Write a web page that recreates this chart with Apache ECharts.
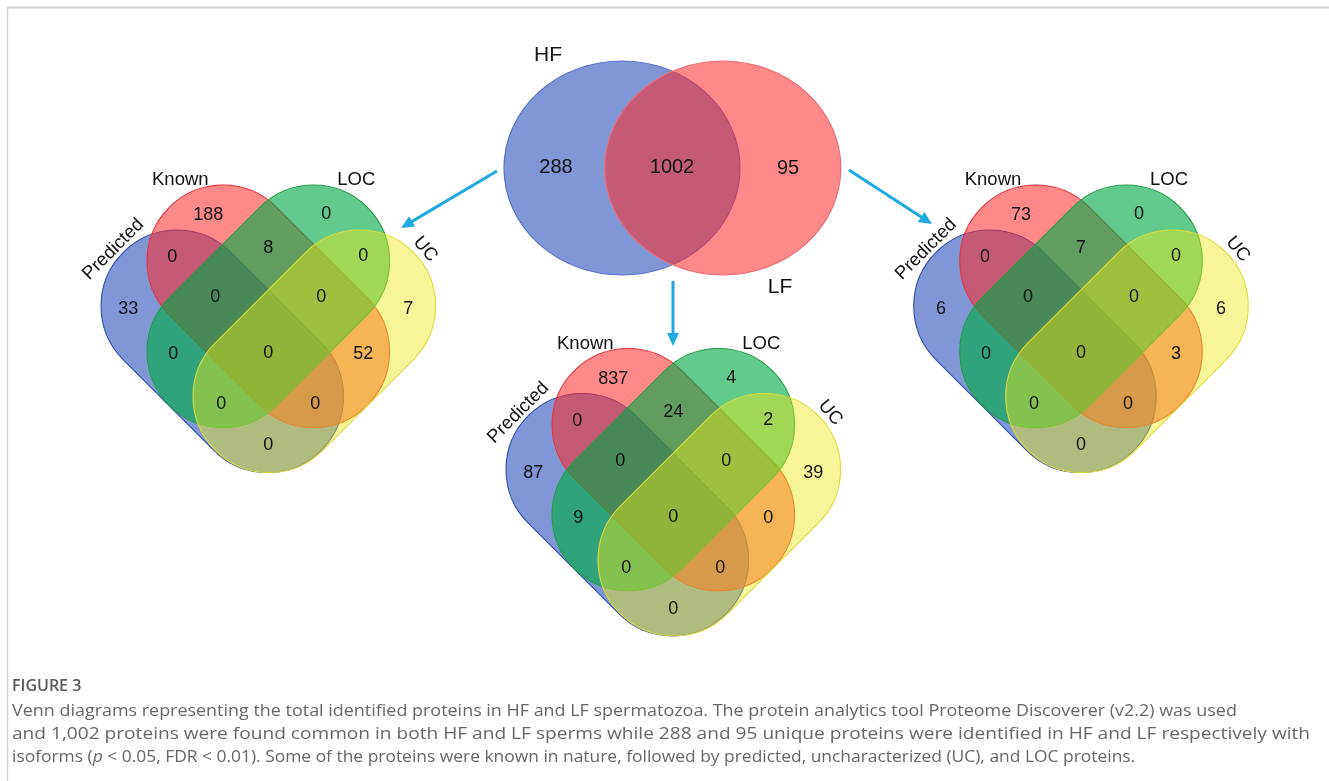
<!DOCTYPE html>
<html>
<head>
<meta charset="utf-8">
<script src="https://cdn.jsdelivr.net/npm/echarts@6/dist/echarts.min.js"></script>
<style>
html, body { margin: 0; padding: 0; background: #fff; }
#chart { width: 1329px; height: 781px; }
</style>
</head>
<body>
<div id="chart"></div>
<script>
// Two-group overlap: HF only, shared, LF only
const pairSets = ['HF', 'LF'];
const pairCounts = [288, 1002, 95];

// Protein categories and the 15 regions of each four-set diagram
const setNames = ['Predicted', 'Known', 'LOC', 'UC'];
const regionKeys = ['P', 'K', 'L', 'U', 'PK', 'KL', 'LU', 'PL', 'KU', 'PU', 'PKL', 'KLU', 'PLU', 'PKU', 'PKLU'];
const hfOnlyCounts = [33, 188, 0, 7, 0, 8, 0, 0, 52, 0, 0, 0, 0, 0, 0];
const sharedCounts = [87, 837, 4, 39, 0, 24, 2, 9, 0, 0, 0, 0, 0, 0, 0];
const lfOnlyCounts = [6, 73, 0, 6, 0, 7, 0, 0, 3, 0, 0, 0, 0, 0, 0];
const quadCounts = [hfOnlyCounts, sharedCounts, lfOnlyCounts];

// Caption
const captionTitle = 'FIGURE 3';
const captionLines = [
  'Venn diagrams representing the total identified proteins in HF and LF spermatozoa. The protein analytics tool Proteome Discoverer (v2.2) was used',
  'and 1,002 proteins were found common in both HF and LF sperms while 288 and 95 unique proteins were identified in HF and LF respectively with',
  'isoforms ({i|p} < 0.05, FDR < 0.01). Some of the proteins were known in nature, followed by predicted, uncharacterized (UC), and LOC proteins.'
];

// Geometry (pixel units of the hidden 1329 x 781 cartesian frame)
const layout = {
  pair: {
    centers: [[622, 168], [722.8, 168]],
    rx: 118, ry: 107,
    labelPos: [[556, 167], [672, 167], [788, 168]],
    namePos: [[548, 55], [780, 287]]
  },
  quad: {
    centers: [[268.3, 353.3], [673.3, 516.7], [1081, 353.3]],
    shapeOffset: [[-46, -2], [0, -47], [0, -47], [46, -2]],
    shapeRot: [-45, -45, 45, 45],
    length: 280, width: 152,
    regionOffset: {
      P: [-140, -44], K: [-60, -138], L: [58, -139], U: [140, -44],
      PK: [-96, -96], KL: [0, -105], LU: [95, -97],
      PL: [-95, 1], KU: [95, 1], PU: [0, 92],
      PKL: [-53, -56], KLU: [53, -56], PLU: [-47, 51], PKU: [47, 51], PKLU: [0, 0]
    },
    namePos: [[-155, -104, 45], [-88, -173, 0], [88, -173, 0], [157, -104, -50]]
  },
  arrows: [[[497, 171], [401, 228]], [[673, 281], [673, 346]], [[849, 170], [932, 224]]],
  caption: { x: 12, titleY: 686, lineY: [711, 734, 757], stretch: [1.055, 1.124, 1.024] }
};

const setFill = ['rgba(43,82,187,0.6)', 'rgba(255,40,40,0.55)', 'rgba(0,170,70,0.62)', 'rgba(235,232,25,0.45)'];
const setStroke = ['#2c4bb0', '#e8333a', '#1f9e44', '#e0dc3a'];
const numFont = '"Liberation Sans", Arial, sans-serif';
const capFont = '"Open Sans", sans-serif';

const chart = echarts.init(document.getElementById('chart'));

function textEl(x, y, str, size, rot) {
  return {
    type: 'text', x: x, y: y, rotation: (rot || 0) * Math.PI / 180,
    style: {
      text: str, fill: '#111', fontSize: size, fontFamily: numFont,
      textAlign: 'center', textVerticalAlign: 'middle'
    }
  };
}

const quadShapeData = [];
quadCounts.forEach((_, d) => setNames.forEach((__, s) => quadShapeData.push([d, s])));
const quadLabelData = [];
quadCounts.forEach((arr, d) => arr.forEach((v, r) => quadLabelData.push([d, r, v])));
const quadNameData = [];
quadCounts.forEach((_, d) => setNames.forEach((__, s) => quadNameData.push([d, s])));

const C = layout.caption;
const captionGraphics = [
  { type: 'text', x: C.x, y: C.titleY, style: { text: captionTitle, fill: '#5a5a5a', fontSize: 16, fontWeight: 600, fontFamily: capFont, textVerticalAlign: 'middle' } }
].concat(captionLines.map((line, i) => ({
  type: 'text', x: C.x, y: C.lineY[i], scaleX: C.stretch[i],
  style: {
    text: line, fill: '#666', fontSize: 17, fontFamily: capFont, textVerticalAlign: 'middle',
    rich: { i: { fontStyle: 'italic', fill: '#666', fontSize: 17, fontFamily: capFont } }
  }
})));

const option = {
  animation: false,
  grid: { left: 0, right: 0, top: 0, bottom: 0 },
  xAxis: { type: 'value', min: 0, max: 1329, show: false },
  yAxis: { type: 'value', min: 0, max: 781, inverse: true, show: false },
  series: [
    {
      // HF / LF circles
      type: 'custom', silent: true, clip: false,
      data: pairSets.map((n, i) => [i]),
      renderItem: function (params, api) {
        const i = api.value(0);
        const c = api.coord(layout.pair.centers[i]);
        const L = layout.pair;
        return {
          type: 'circle', x: c[0], y: c[1],
          scaleX: L.rx / L.ry,
          shape: { cx: 0, cy: 0, r: L.ry },
          style: { fill: setFill[i === 0 ? 0 : 1], stroke: i === 0 ? '#5a70c8' : '#f06a72', lineWidth: 1.1 }
        };
      }
    },
    {
      type: 'custom', silent: true, clip: false,
      data: pairCounts.map((v, i) => [i, v]),
      renderItem: function (params, api) {
        const p = api.coord(layout.pair.labelPos[api.value(0)]);
        return textEl(p[0], p[1], String(api.value(1)), 20);
      }
    },
    {
      type: 'custom', silent: true, clip: false,
      data: pairSets.map((n, i) => [i]),
      renderItem: function (params, api) {
        const i = api.value(0);
        const p = api.coord(layout.pair.namePos[i]);
        return textEl(p[0], p[1], pairSets[i], 21);
      }
    },
    {
      // four rounded sets per diagram, drawn Predicted, Known, LOC, UC
      type: 'custom', silent: true, clip: false,
      data: quadShapeData,
      renderItem: function (params, api) {
        const d = api.value(0), s = api.value(1);
        const Q = layout.quad;
        const ctr = Q.centers[d], off = Q.shapeOffset[s];
        const p = api.coord([ctr[0] + off[0], ctr[1] + off[1]]);
        return {
          type: 'rect', x: p[0], y: p[1], rotation: Q.shapeRot[s] * Math.PI / 180,
          shape: { x: -Q.length / 2, y: -Q.width / 2, width: Q.length, height: Q.width, r: Q.width / 2 },
          style: { fill: setFill[s], stroke: setStroke[s], lineWidth: 1.1 }
        };
      }
    },
    {
      type: 'custom', silent: true, clip: false,
      data: quadLabelData,
      renderItem: function (params, api) {
        const d = api.value(0), r = api.value(1);
        const Q = layout.quad;
        const ctr = Q.centers[d], off = Q.regionOffset[regionKeys[r]];
        const p = api.coord([ctr[0] + off[0], ctr[1] + off[1]]);
        return textEl(p[0], p[1], String(api.value(2)), 18);
      }
    },
    {
      type: 'custom', silent: true, clip: false,
      data: quadNameData,
      renderItem: function (params, api) {
        const d = api.value(0), s = api.value(1);
        const Q = layout.quad;
        const ctr = Q.centers[d], np = Q.namePos[s];
        const p = api.coord([ctr[0] + np[0], ctr[1] + np[1]]);
        return textEl(p[0], p[1], setNames[s], 18.5, np[2]);
      }
    },
    {
      // arrows from the overlap diagram to each breakdown
      type: 'custom', silent: true, clip: false,
      data: layout.arrows.map((a, i) => [i]),
      renderItem: function (params, api) {
        const a = layout.arrows[api.value(0)];
        const p0 = api.coord(a[0]), p1 = api.coord(a[1]);
        const dx = p1[0] - p0[0], dy = p1[1] - p0[1];
        const len = Math.sqrt(dx * dx + dy * dy);
        const ux = dx / len, uy = dy / len;
        const hl = 13, hw = 6;
        const bx = p1[0] - ux * hl, by = p1[1] - uy * hl;
        return {
          type: 'group',
          children: [
            { type: 'line', shape: { x1: p0[0], y1: p0[1], x2: bx + ux * 2, y2: by + uy * 2 },
              style: { stroke: '#1ea9e1', lineWidth: 3 } },
            { type: 'polygon', shape: { points: [[p1[0], p1[1]], [bx - uy * hw, by + ux * hw], [bx + uy * hw, by - ux * hw]] },
              style: { fill: '#1ea9e1' } }
          ]
        };
      }
    }
  ],
  graphic: [
    { type: 'line', shape: { x1: 7, y1: 7.5, x2: 1329, y2: 7.5 }, style: { stroke: '#d4d4d4', lineWidth: 2 } },
    { type: 'line', shape: { x1: 7.5, y1: 7, x2: 7.5, y2: 781 }, style: { stroke: '#d4d4d4', lineWidth: 1.5 } }
  ].concat(captionGraphics)
};
chart.setOption(option);
</script>
</body>
</html>
